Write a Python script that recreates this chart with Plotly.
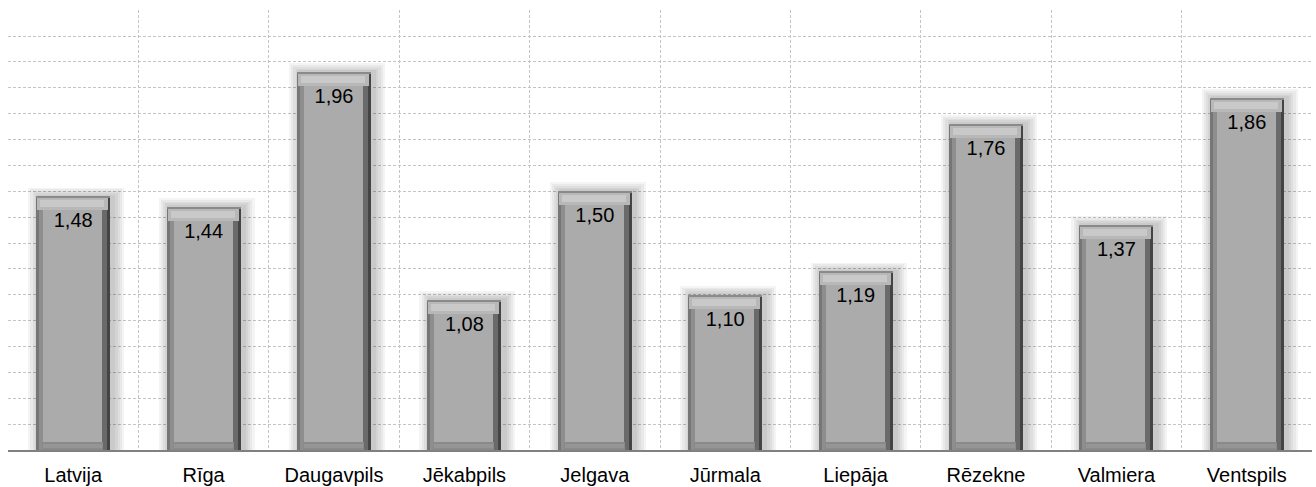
import plotly.graph_objects as go

categories = ["Latvija", "Rīga", "Daugavpils", "Jēkabpils", "Jelgava",
              "Jūrmala", "Liepāja", "Rēzekne", "Valmiera", "Ventspils"]
values = [1.48, 1.44, 1.96, 1.08, 1.50, 1.10, 1.19, 1.76, 1.37, 1.86]
labels = [f"{v:.2f}".replace(".", ",") for v in values]

Y_MIN, Y_MAX = 0.5, 2.2
PLOT_W, PLOT_H = 1304, 440
PX_X = len(categories) / PLOT_W          # category units per pixel
PX_Y = (Y_MAX - Y_MIN) / PLOT_H          # value units per pixel
BAR_PX = 74

fig = go.Figure()


def layer(x0_px, w_px, base, length, color):
    """bar layer: x0_px relative to left edge of the bar (pixels)."""
    fig.add_trace(go.Bar(
        x=categories, y=length, base=base,
        width=w_px * PX_X,
        offset=(-BAR_PX / 2 + x0_px) * PX_X,
        marker=dict(color=color, line=dict(width=0)),
        hoverinfo="skip", showlegend=False,
    ))


n = len(values)
# soft shadow
for k in range(1, 6):
    grow = 2.2 * k
    layer(3 - grow, BAR_PX + 2 * grow,
          [Y_MIN] * n,
          [v - Y_MIN + grow * PX_Y * 0.8 for v in values],
          "rgba(0,0,0,0.045)")

full = [v - Y_MIN for v in values]
base0 = [Y_MIN] * n
# body / left edge
layer(0, BAR_PX, base0, full, "#767676")
layer(3, 5, base0, full, "#8e8e8e")
# right edge
layer(BAR_PX - 8, 8, base0, full, "#6a6a6a")
layer(BAR_PX - 3, 3, base0, full, "#444444")
# bottom bevel
layer(6, BAR_PX - 13, base0, [8 * PX_Y] * n, "#8a8a8a")
layer(7, BAR_PX - 15, [Y_MIN + 2 * PX_Y] * n, [4 * PX_Y] * n, "#959595")
# top bevel
layer(1, BAR_PX - 3, [v - 14 * PX_Y for v in values], [13 * PX_Y] * n, "#b8b8b8")
layer(4, BAR_PX - 10, [v - 11 * PX_Y for v in values], [7 * PX_Y] * n, "#c9c9c9")
layer(0, BAR_PX, [v - 1.5 * PX_Y for v in values], [1.5 * PX_Y] * n, "#8a8a8a")
# face
layer(7, BAR_PX - 15, [Y_MIN + 8 * PX_Y] * n,
      [v - Y_MIN - 22 * PX_Y for v in values], "#ababab")

# value labels
fig.add_trace(go.Scatter(
    x=categories, y=[v - 26 * PX_Y for v in values], text=labels,
    mode="text", textposition="middle center",
    textfont=dict(family="Arial, Liberation Sans, sans-serif", size=20, color="#000000"),
    hoverinfo="skip", showlegend=False,
))

fig.update_layout(
    width=1316, height=487,
    margin=dict(l=8, r=4, t=10, b=37),
    paper_bgcolor="white", plot_bgcolor="white",
    barmode="overlay", bargap=0,
    font=dict(family="Arial, Liberation Sans, sans-serif", size=20, color="#000000"),
    xaxis=dict(
        type="category", range=[-0.5, n - 0.5],
        tickson="boundaries", ticks="", showgrid=True,
        gridcolor="#c4c4c4", griddash="3px,2px", gridwidth=1,
        showline=True, linecolor="#808080", linewidth=2,
        tickfont=dict(size=20), ticklabelstandoff=6,
        fixedrange=True, automargin=False,
    ),
    yaxis=dict(
        range=[Y_MIN, Y_MAX + 0.0005], dtick=0.1, tick0=Y_MIN,
        showticklabels=False, ticks="", showgrid=True,
        gridcolor="#c4c4c4", griddash="3px,2px", gridwidth=1,
        zeroline=False, showline=False, fixedrange=True, automargin=False,
    ),
)

fig.write_html(
    "out.html",
    config={"displayModeBar": False},
    post_script="document.body.style.margin='0';document.body.style.padding='0';"
                "document.body.style.overflow='hidden';",
)
